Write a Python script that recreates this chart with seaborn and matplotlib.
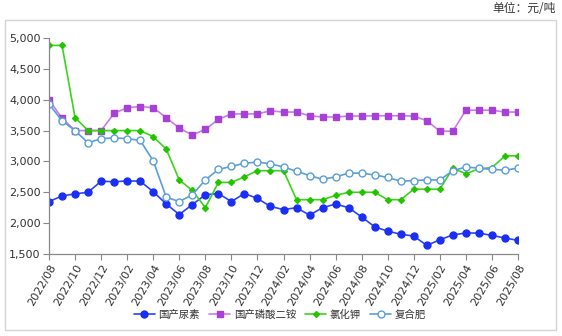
import matplotlib
matplotlib.use("Agg")
import matplotlib.pyplot as plt
import seaborn as sns
import pandas as pd
import numpy as np
from matplotlib.patches import Rectangle

months = pd.date_range("2022-08-01", "2025-08-01", freq="MS").strftime("%Y/%m").tolist()

urea = [2350, 2440, 2475, 2500, 2680, 2670, 2685, 2680, 2510, 2310, 2140, 2300,
        2460, 2480, 2350, 2480, 2400, 2270, 2220, 2250, 2130, 2250, 2310, 2250,
        2100, 1940, 1870, 1820, 1790, 1640, 1730, 1810, 1840, 1840, 1800, 1760, 1720]
dap = [4000, 3700, 3500, 3500, 3500, 3780, 3870, 3890, 3870, 3710, 3540, 3430,
       3520, 3680, 3770, 3770, 3770, 3820, 3800, 3800, 3740, 3720, 3720, 3735,
       3735, 3740, 3740, 3740, 3735, 3660, 3490, 3490, 3830, 3830, 3830, 3800, 3800]
kcl = [4880, 4880, 3710, 3500, 3500, 3500, 3500, 3500, 3400, 3200, 2700, 2530,
       2250, 2660, 2660, 2750, 2850, 2850, 2850, 2380, 2380, 2380, 2450, 2500,
       2500, 2500, 2380, 2380, 2550, 2550, 2550, 2890, 2800, 2880, 2900, 3090, 3090]
compound = [3930, 3660, 3500, 3300, 3370, 3380, 3370, 3340, 3010, 2420, 2350, 2460,
            2700, 2870, 2920, 2970, 2990, 2960, 2910, 2840, 2770, 2710, 2750, 2810,
            2810, 2780, 2740, 2680, 2690, 2700, 2700, 2850, 2910, 2890, 2870, 2860, 2890]

names = ["国产尿素", "国产磷酸二铵", "氯化钾", "复合肥"]
yticks = [1500, 2000, 2500, 3000, 3500, 4000, 4500, 5000]

sns.set_theme(style="white")
plt.rcParams['font.family'] = ['Noto Sans CJK SC', 'DejaVu Sans']

fig = plt.figure(figsize=(5.62, 3.36), dpi=100)
fig.patches.append(Rectangle((5/562, 1-330/336), 551/562, 310/336, transform=fig.transFigure,
                             fill=False, edgecolor="#d4d4d4", linewidth=1.0, zorder=0))
ax = fig.add_axes([49/562, 1-254/336, (518-49)/562, (254-38)/336])

x = np.arange(len(months))
styles = [
    dict(data=urea, color="#2a46f0", mec="#1a2ef5", mfc="#1a2ef5", marker="o", ms=5),
    dict(data=dap, color="#c57ee6", mec="#a640d6", mfc="#a640d6", marker="s", ms=4.6),
    dict(data=kcl, color="#3ad41a", mec="#22c400", mfc="#22c400", marker="D", ms=3),
    dict(data=compound, color="#5a9fd6", mec="#5a9fd6", mfc="white", marker="o", ms=5),
]
for name, st in zip(names, styles):
    sns.lineplot(x=x, y=st["data"], ax=ax, color=st["color"], marker=st["marker"],
                 markersize=st["ms"], markerfacecolor=st["mfc"], markeredgecolor=st["mec"],
                 markeredgewidth=1.0, linewidth=1.2, label=name)

ax.set_xlim(0, len(months) - 1)
ax.set_ylim(1500, 5000)
ax.set_yticks(yticks)
ax.set_yticklabels([f"{v:,}" for v in yticks], fontsize=8, color="#333333", family="DejaVu Sans")
ax.set_xticks(x[::2])
ax.set_xticklabels(months[::2], rotation=60, ha="right", rotation_mode="anchor",
                   fontsize=8, color="#333333", family="DejaVu Sans")
ax.tick_params(axis="both", which="both", direction="out", length=4, width=0.8,
               color="#888888", left=True, bottom=True, pad=2)
for s in ["top", "right"]:
    ax.spines[s].set_visible(False)
for s in ["left", "bottom"]:
    ax.spines[s].set_color("#888888")
    ax.spines[s].set_linewidth(0.9)
ax.grid(False)

leg = ax.legend(loc="center", bbox_to_anchor=(280/562, 1-315/336), bbox_transform=fig.transFigure,
                ncol=4, frameon=False, fontsize=7.5, handlelength=2.0, columnspacing=0.9,
                handletextpad=0.35)
for t in leg.get_texts():
    t.set_color("#333333")

fig.text(556/562, 1-9/336, "单位：元/吨", ha="right", va="center", fontsize=8.5, color="#333333")

fig.savefig("out.png", dpi=100)
